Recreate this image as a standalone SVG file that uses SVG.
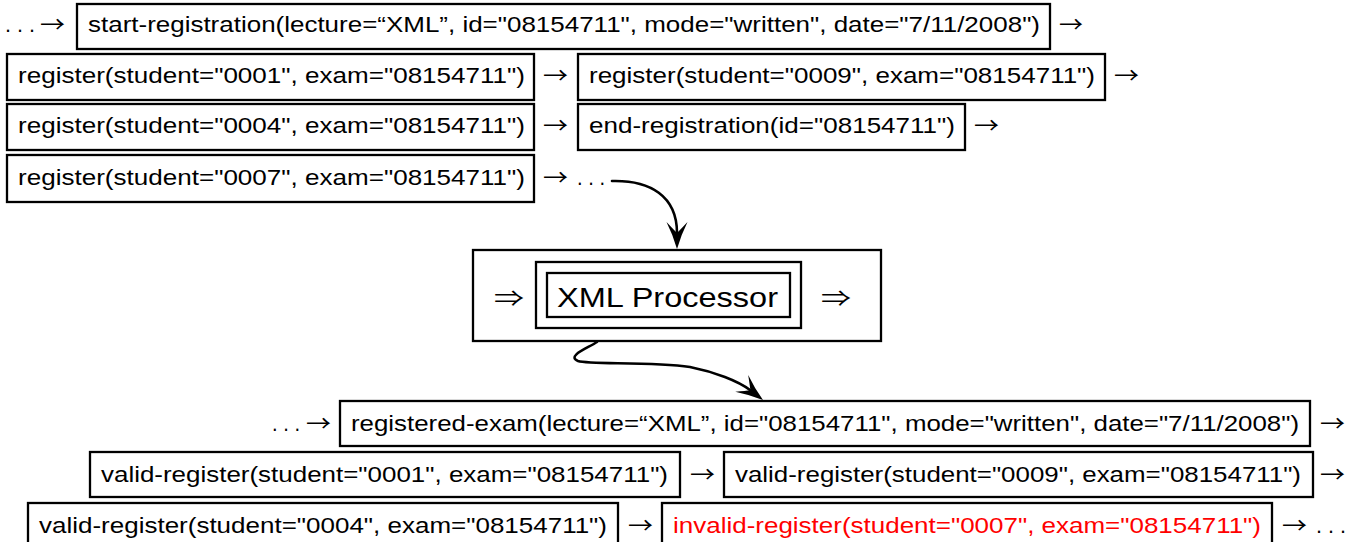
<svg xmlns="http://www.w3.org/2000/svg" width="1362" height="542" viewBox="0 0 1362 542">
  <style>
    .box { fill: #ffffff; stroke: #000000; stroke-width: 2.3; }
    .t { font-family: "Liberation Sans", Arial, sans-serif; font-size: 22px; fill: #000000; }
    .red { fill: #ff0000; }
    .sym { font-family: "Noto Sans CJK JP", "DejaVu Sans", sans-serif; font-size: 22px; fill: #000000; }
    .big { font-family: "Liberation Sans", Arial, sans-serif; font-size: 28px; fill: #000000; }
    .curve { fill: none; stroke: #000000; stroke-width: 2.6; stroke-linecap: round; }
    .head { fill: #000000; stroke: none; }
  </style>
  <defs>
    <!-- barbed arrowhead, tip at origin, pointing along +x -->
    <path id="barb" d="M0,0 Q-14,-4 -27,-10.5 Q-19,-3 -16,0 Q-19,3 -27,10.5 Q-14,4 0,0 Z"/>
  </defs>
  <rect width="1362" height="542" fill="#ffffff"/>

  <!-- input event stream -->
  <g id="input-stream">
    <text class="t" x="5" y="32" textLength="30" lengthAdjust="spacingAndGlyphs">. . .</text>
    <text class="sym" x="40" y="32" textLength="25" lengthAdjust="spacingAndGlyphs">→</text>
  </g>
  <g id="start-registration">
    <rect class="box" x="77" y="4" width="973" height="45"/>
    <text class="t" x="88" y="32" textLength="952" lengthAdjust="spacingAndGlyphs">start-registration(lecture=“XML”, id="08154711", mode="written", date="7/11/2008")</text>
    <text class="sym" x="1059" y="32" textLength="24" lengthAdjust="spacingAndGlyphs">→</text>
  </g>
  <g id="register-0001">
    <rect class="box" x="7" y="54" width="527" height="46"/>
    <text class="t" x="18" y="83" textLength="507" lengthAdjust="spacingAndGlyphs">register(student="0001", exam="08154711")</text>
    <text class="sym" x="543" y="83" textLength="25" lengthAdjust="spacingAndGlyphs">→</text>
  </g>
  <g id="register-0009">
    <rect class="box" x="578" y="54" width="527" height="46"/>
    <text class="t" x="589" y="83" textLength="506" lengthAdjust="spacingAndGlyphs">register(student="0009", exam="08154711")</text>
    <text class="sym" x="1114" y="83" textLength="25" lengthAdjust="spacingAndGlyphs">→</text>
  </g>
  <g id="register-0004">
    <rect class="box" x="7" y="104" width="527" height="46"/>
    <text class="t" x="18" y="133" textLength="507" lengthAdjust="spacingAndGlyphs">register(student="0004", exam="08154711")</text>
    <text class="sym" x="543" y="133" textLength="25" lengthAdjust="spacingAndGlyphs">→</text>
  </g>
  <g id="end-registration">
    <rect class="box" x="578" y="104" width="387" height="46"/>
    <text class="t" x="589" y="133" textLength="366" lengthAdjust="spacingAndGlyphs">end-registration(id="08154711")</text>
    <text class="sym" x="974" y="133" textLength="25" lengthAdjust="spacingAndGlyphs">→</text>
  </g>
  <g id="register-0007">
    <rect class="box" x="7" y="155" width="527" height="47"/>
    <text class="t" x="18" y="185" textLength="507" lengthAdjust="spacingAndGlyphs">register(student="0007", exam="08154711")</text>
    <text class="sym" x="543" y="185" textLength="25" lengthAdjust="spacingAndGlyphs">→</text>
    <text class="t" x="577" y="185" textLength="28" lengthAdjust="spacingAndGlyphs">. . .</text>
  </g>

  <!-- processor -->
  <g id="xml-processor">
    <rect class="box" x="473" y="250" width="408" height="91"/>
    <rect class="box" x="536" y="262" width="265" height="66"/>
    <rect class="box" x="547" y="273" width="243" height="44"/>
    <text class="big" x="557" y="307" textLength="221" lengthAdjust="spacingAndGlyphs">XML Processor</text>
    <text class="sym" x="494" y="306" textLength="30" lengthAdjust="spacingAndGlyphs">⇒</text>
    <text class="sym" x="821" y="306" textLength="30" lengthAdjust="spacingAndGlyphs">⇒</text>
  </g>

  <!-- connectors into and out of the processor -->
  <g id="connectors">
    <path class="curve" d="M612,181 C650,180 677,196 677,233"/>
    <use href="#barb" class="head" transform="translate(677,249) rotate(90)"/>
    <path class="curve" d="M597,342 C588,348 566,356 578,361 C590,365 650,361 690,367 C715,372 738,381 750,390"/>
    <use href="#barb" class="head" transform="translate(763,400) rotate(38)"/>
  </g>

  <!-- output event stream -->
  <g id="output-stream">
    <text class="t" x="272" y="431" textLength="28" lengthAdjust="spacingAndGlyphs">. . .</text>
    <text class="sym" x="306" y="431" textLength="25" lengthAdjust="spacingAndGlyphs">→</text>
  </g>
  <g id="registered-exam">
    <rect class="box" x="340" y="401" width="970" height="45"/>
    <text class="t" x="351" y="431" textLength="948" lengthAdjust="spacingAndGlyphs">registered-exam(lecture=“XML”, id="08154711", mode="written", date="7/11/2008")</text>
    <text class="sym" x="1320" y="431" textLength="25" lengthAdjust="spacingAndGlyphs">→</text>
  </g>
  <g id="valid-register-0001">
    <rect class="box" x="90" y="452" width="590" height="45"/>
    <text class="t" x="101" y="482" textLength="567" lengthAdjust="spacingAndGlyphs">valid-register(student="0001", exam="08154711")</text>
    <text class="sym" x="690" y="482" textLength="25" lengthAdjust="spacingAndGlyphs">→</text>
  </g>
  <g id="valid-register-0009">
    <rect class="box" x="724" y="452" width="589" height="45"/>
    <text class="t" x="735" y="482" textLength="566" lengthAdjust="spacingAndGlyphs">valid-register(student="0009", exam="08154711")</text>
    <text class="sym" x="1320" y="482" textLength="25" lengthAdjust="spacingAndGlyphs">→</text>
  </g>
  <g id="valid-register-0004">
    <rect class="box" x="28" y="503" width="590" height="47"/>
    <text class="t" x="39" y="533" textLength="568" lengthAdjust="spacingAndGlyphs">valid-register(student="0004", exam="08154711")</text>
    <text class="sym" x="628" y="533" textLength="25" lengthAdjust="spacingAndGlyphs">→</text>
  </g>
  <g id="invalid-register-0007">
    <rect class="box" x="662" y="503" width="610" height="47"/>
    <text class="t red" x="673" y="533" textLength="588" lengthAdjust="spacingAndGlyphs">invalid-register(student="0007", exam="08154711")</text>
    <text class="sym" x="1282" y="533" textLength="25" lengthAdjust="spacingAndGlyphs">→</text>
    <text class="t" x="1316" y="533" textLength="30" lengthAdjust="spacingAndGlyphs">. . .</text>
  </g>
</svg>
